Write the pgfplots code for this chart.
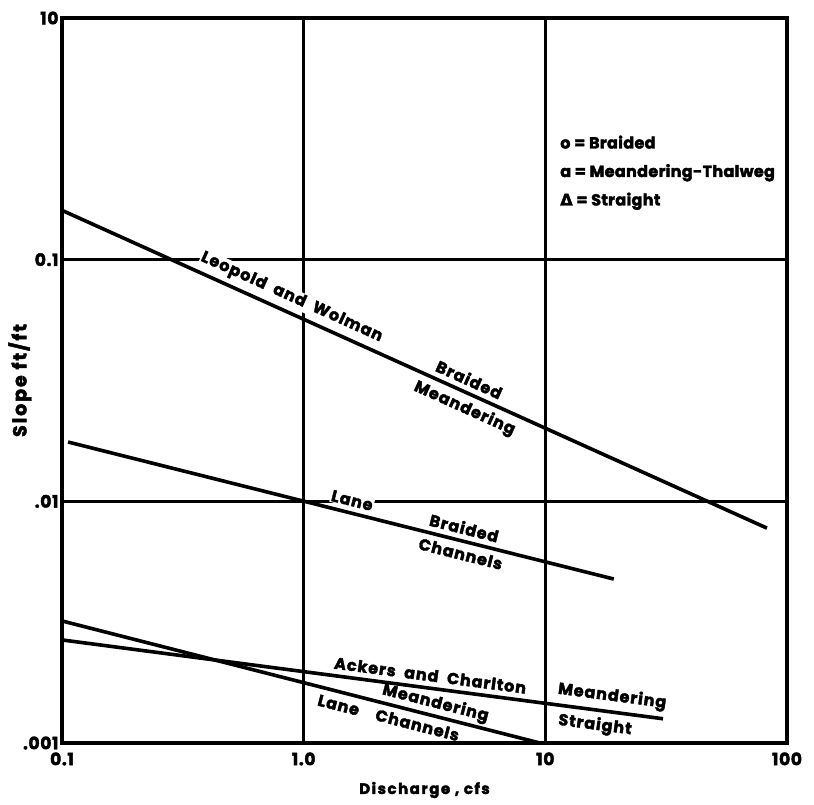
\documentclass[border=0pt]{standalone}
\usepackage{pgfplots}
\pgfplotsset{compat=1.18}
\usepackage{fontspec}
\setmainfont{Poppins}[LetterSpace=6, BoldFeatures={FakeBold=2.5}]
\newfontfamily\dejavu{DejaVu Sans}[FakeBold=2.5]
\tikzset{lab/.style={font=\bfseries\fontsize{16}{16}\selectfont, sloped, inner sep=1pt}}

\begin{document}
\begin{tikzpicture}
\path[use as bounding box] (-62pt,-61pt) rectangle (752pt,743pt);
\begin{axis}[
    at={(0pt,0pt)}, anchor=south west,
    scale only axis, width=725pt, height=725pt,
    xmode=log, ymode=log,
    xmin=0.1, xmax=100, ymin=0.001, ymax=1,
    xtick={0.1,1,10,100}, xticklabels={0.1,1.0,10,100},
    ytick={0.001,0.01,0.1,1}, yticklabels={.001,.01,0.1,10},
    major tick length=0pt, minor tick length=0pt,
    grid=major,
    major grid style={black, line width=2.6pt},
    axis line style={line width=3.6pt},
    tick label style={font=\bfseries\fontsize{17}{17}\selectfont\addfontfeature{LetterSpace=4}},
    xticklabel style={yshift=-6pt},
    every axis x label/.style={at={(axis description cs:0.5,0)}, anchor=center, yshift=-47pt},
    every axis y label/.style={at={(axis description cs:-0.058,0.5)}, anchor=center, rotate=90},
    xlabel style={font=\bfseries\fontsize{15}{15}\selectfont\addfontfeature{LetterSpace=10}},
    ylabel style={font=\bfseries\fontsize{19}{19}\selectfont\addfontfeature{LetterSpace=10}},
    xlabel={Discharge , cfs}, ylabel={Slope ft/ft},
]
% Leopold and Wolman
\addplot[black, line width=3.6pt] coordinates {(0.1,0.160) (82.6,0.00775)}
    node[lab, pos=0.317, above=4pt, fill=white] {Leopold\ \ and\ \ Wolman}
    node[lab, pos=0.57, above=4pt] {Braided}
    node[lab, pos=0.58, below=4pt] {Meandering};
% Lane, braided channels
\addplot[black, line width=3.6pt] coordinates {(0.106,0.0176) (19.2,0.00477)}
    node[lab, pos=0.515, above=4pt, fill=white] {Lane}
    node[lab, pos=0.72, above=4pt] {Braided}
    node[lab, pos=0.725, below=4pt] {Channels};
% Ackers and Charlton
\addplot[black, line width=3.6pt] coordinates {(0.1,0.00267) (30.7,0.00126)}
    node[lab, pos=0.61, above=4pt] {Ackers\ \ and\ \ Charlton}
    node[lab, pos=0.912, above=4pt] {Meandering}
    node[lab, pos=0.89, below=4pt] {Straight};
% Lane, meandering channels
\addplot[black, line width=3.6pt] coordinates {(0.1,0.0032) (9.5,0.001)}
    node[lab, pos=0.775, above=1pt] {Meandering}
    node[lab, pos=0.69, below=4pt] {Lane\ \ \ \ Channels};
% key
\node[anchor=north west, align=left, inner sep=0pt,
      font=\bfseries\fontsize{16}{28.5}\selectfont\addfontfeature{LetterSpace=2}]
    at (rel axis cs:0.687,0.838)
    {o = Braided\\a = Meandering-Thalweg\\{\dejavu Δ} = Straight};
\end{axis}
\end{tikzpicture}
\end{document}
